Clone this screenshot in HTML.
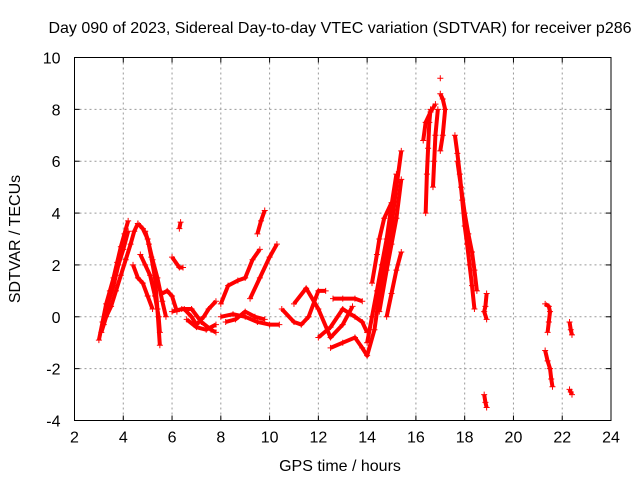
<!DOCTYPE html>
<html><head><meta charset="utf-8"><style>
body{margin:0;background:#fff}
svg{display:block;font-family:"Liberation Sans",sans-serif}
</style></head><body>
<svg width="640" height="480">
<rect width="640" height="480" fill="#fff"/>
<text x="340" y="33" font-size="16" text-anchor="middle">Day 090 of 2023, Sidereal Day-to-day VTEC variation (SDTVAR) for receiver p286</text>
<g id="grid"></g>
<g id="ticks"></g>
<g id="series"></g>
<rect x="74.5" y="57.5" width="536.5" height="363" fill="none" stroke="#000" stroke-width="1"/>
<text x="340" y="471" font-size="16" text-anchor="middle">GPS time / hours</text>
<text transform="translate(20,239) rotate(-90)" font-size="16" text-anchor="middle">SDTVAR / TECUs</text>
</svg>
<script>
const xTicks=[2,4,6,8,10,12,14,16,18,20,22,24];
const yTicks=[-4,-2,0,2,4,6,8,10];
const tracks=[
[[3.0,-0.9],[3.15,-0.2],[3.3,0.5],[3.45,1.0],[3.6,1.5],[3.75,2.1],[3.9,2.7],[4.05,3.2],[4.2,3.7]],
[[3.1,-0.6],[3.3,0.0],[3.5,0.4],[3.7,1.0],[3.9,1.6],[4.1,2.2],[4.3,2.8],[4.45,3.3],[4.6,3.6]],
[[3.2,-0.3],[3.4,0.6],[3.6,1.2],[3.8,2.0],[4.0,2.6],[4.2,3.3]],
[[4.6,3.6],[4.8,3.4],[5.0,3.0],[5.15,2.3],[5.3,1.5],[5.4,0.3],[5.5,-1.1]],
[[4.9,3.3],[5.05,2.8],[5.2,2.2],[5.4,1.5],[5.6,0.6],[5.75,0.0]],
[[4.7,2.4],[4.9,2.0],[5.1,1.6],[5.3,0.8],[5.45,0.0],[5.5,-0.6]],
[[4.4,2.0],[4.6,1.5],[4.8,1.3],[5.0,0.8],[5.2,0.3]],
[[5.6,0.9],[5.8,1.0],[6.0,0.8],[6.2,0.2]],
[[6.3,3.4],[6.35,3.65]],
[[6.0,2.3],[6.3,1.9],[6.45,1.9]],
[[6.0,0.2],[6.4,0.3],[6.8,0.3],[7.2,-0.2],[7.6,-0.5],[7.8,-0.6]],
[[6.5,0.3],[6.8,0.0],[7.0,-0.3],[7.3,0.0],[7.5,0.3],[7.8,0.6]],
[[6.6,-0.1],[7.0,-0.4],[7.4,-0.5],[7.8,-0.3]],
[[8.0,0.5],[8.3,1.2],[8.7,1.4],[9.0,1.5],[9.3,2.2],[9.6,2.6]],
[[8.0,0.0],[8.5,0.1],[9.0,0.0],[9.5,-0.2],[10.0,-0.3],[10.4,-0.3]],
[[8.2,-0.2],[8.6,-0.1],[9.0,0.2],[9.4,0.0],[9.8,-0.1]],
[[9.2,0.7],[9.6,1.5],[10.0,2.3],[10.3,2.8]],
[[9.5,3.2],[9.65,3.7],[9.8,4.1]],
[[10.5,0.3],[11.0,-0.2],[11.3,-0.3],[11.6,0.0],[12.0,1.0],[12.3,1.0]],
[[11.0,0.5],[11.5,1.1],[12.0,0.3],[12.5,-0.8],[13.0,-0.3],[13.4,0.4]],
[[12.0,-0.8],[12.5,-0.4],[13.0,0.3],[13.5,0.0],[13.8,-0.2],[14.0,-0.6]],
[[12.6,0.7],[13.0,0.7],[13.5,0.7],[13.8,0.6]],
[[12.5,-1.2],[13.0,-1.0],[13.5,-0.8],[13.8,-1.2],[14.0,-1.5],[14.3,-0.5],[14.6,1.5],[15.0,3.5],[15.2,5.0],[15.4,6.4]],
[[14.0,-1.0],[14.2,0.0],[14.4,1.0],[14.6,2.0],[14.8,3.0],[15.0,4.3],[15.2,5.5]],
[[14.5,0.2],[14.8,1.8],[15.0,2.8],[15.2,3.8],[15.4,5.3]],
[[14.8,0.0],[15.0,0.9],[15.2,1.8],[15.4,2.5]],
[[14.2,1.3],[14.4,2.4],[14.5,3.0],[14.7,3.8],[15.0,4.4]],
[[16.4,4.0],[16.45,5.5],[16.5,6.5],[16.55,7.5],[16.6,8.0]],
[[16.3,6.8],[16.4,7.5],[16.6,7.9],[16.8,8.2]],
[[16.7,5.0],[16.75,6.0],[16.8,7.0],[16.9,8.0]],
[[17.0,9.2]],
[[17.0,8.6],[17.1,8.4],[17.2,8.0],[17.1,7.0],[17.0,6.4]],
[[17.6,7.0],[17.7,6.3],[17.8,5.5],[17.9,4.5],[18.0,3.5],[18.1,2.8],[18.2,2.0],[18.3,1.2],[18.4,0.3]],
[[17.7,6.0],[17.85,5.0],[18.0,4.0],[18.15,3.2],[18.3,2.5],[18.4,1.8],[18.5,1.0]],
[[18.9,0.9],[18.85,0.4],[18.8,0.2],[18.9,-0.1]],
[[18.8,-3.0],[18.85,-3.3],[18.9,-3.5]],
[[21.3,0.5],[21.45,0.4],[21.5,0.2],[21.45,-0.2],[21.4,-0.6]],
[[21.3,-1.3],[21.4,-1.7],[21.5,-2.0],[21.55,-2.4],[21.6,-2.7]],
[[22.3,-0.2],[22.35,-0.5],[22.4,-0.7]],
[[22.3,-2.8],[22.35,-2.9],[22.4,-3.0]]
];
const X0=74.5,X1=611,Y0=420.5,Y1=57.5;
const sx=v=>X0+(v-2)/22*(X1-X0);
const sy=v=>Y0-(v+4)/14*(Y0-Y1);
const NS="http://www.w3.org/2000/svg";
const grid=document.getElementById('grid'),tk=document.getElementById('ticks'),se=document.getElementById('series');
function mk(t,a,p){const e=document.createElementNS(NS,t);for(const k in a)e.setAttribute(k,a[k]);p.appendChild(e);return e;}
xTicks.forEach(v=>{const x=sx(v);
 if(v>2&&v<24){const l=mk('line',{x1:x,x2:x,y1:Y1,y2:Y0,stroke:'#999','stroke-dasharray':'2,3'},grid);
 
 }
 mk('line',{x1:x,x2:x,y1:Y0,y2:Y0-5,stroke:'#000'},tk);mk('line',{x1:x,x2:x,y1:Y1,y2:Y1+5,stroke:'#000'},tk);
 const t=mk('text',{x:x,y:Y0+22,'font-size':16,'text-anchor':'middle'},tk);t.textContent=v;
 
 });
yTicks.forEach(v=>{const y=sy(v);
 if(v>-4&&v<10){const l=mk('line',{x1:X0,x2:X1,y1:y,y2:y,stroke:'#999','stroke-dasharray':'2,3'},grid);
 
 }
 mk('line',{x1:X0,x2:X0+5,y1:y,y2:y,stroke:'#000'},tk);mk('line',{x1:X1,x2:X1-5,y1:y,y2:y,stroke:'#000'},tk);
 const t=mk('text',{x:X0-14,y:y+6,'font-size':16,'text-anchor':'end'},tk);t.textContent=v;
 
 });
tracks.forEach(tr=>{
 const pts=tr.map(p=>sx(p[0])+','+sy(p[1])).join(' ');
 if(tr.length>1){const pl=mk('polyline',{points:pts,fill:'none',stroke:'#f00','stroke-width':4,'stroke-linejoin':'round'},se);
 
 }
 tr.forEach(p=>{const x=sx(p[0]),y=sy(p[1]);
  const m=mk('path',{d:`M${x-3},${y}H${x+3}M${x},${y-3}V${y+3}`,stroke:'#f00','stroke-width':1},se);
  
  });
});
</script>
</body></html>
